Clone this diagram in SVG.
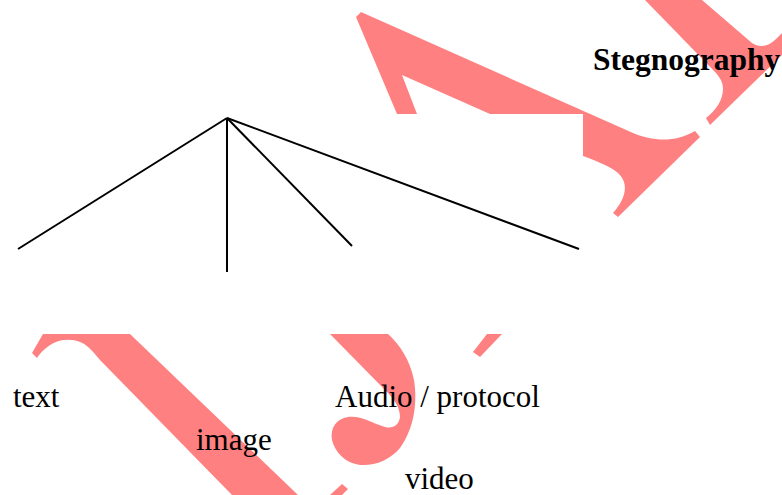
<svg xmlns="http://www.w3.org/2000/svg" width="782" height="495" viewBox="0 0 782 495">
  <style>
    .mark { fill: #ff8080; stroke: none; }
    .edge { stroke: #000; stroke-width: 2; fill: none; stroke-linecap: butt; }
    .label { font-family: "Liberation Serif", "Times New Roman", serif; font-size: 31px; fill: #000; }
    .title { font-family: "Liberation Serif", "Times New Roman", serif; font-size: 31.5px; font-weight: bold; fill: #000; }
  </style>
  <rect width="782" height="495" fill="#fff"/>

  <!-- background stamp fragments -->
  <g id="stamp">
    <path class="mark" d="M 356,17 L 361,12 L 633,133 C 652,141 675,143 695,131 L 700,137 L 618,217 L 613,213 C 622,203 627,192 624,182 C 621,172 610,166 583,156 L 583,114 L 490,114 L 402,75 L 417,114 L 397,114 Z"/>
    <path class="mark" d="M 645,0 L 702,0 L 752,43 C 759,48 768,47 776,39 L 782,33 L 782,55 L 710,125 L 706,118 C 716,110 723,100 723,89 C 723,82 720,78 716,73 Z"/>
    <path class="mark" d="M 32,353 L 43,334 L 130,334 L 298,495 L 232,495 L 100,360 C 92,350 86,344 80,342 C 73,339 63,339 56,342 C 47,346 41,352 37,358 Z"/>
    <path class="mark" d="M 330,334 L 388,334 C 400,345 410,360 414,380 C 418,405 413,430 400,448 C 390,460 375,466 360,465 C 345,463 335,452 332,440 C 330,428 336,419 348,417 C 360,415 372,423 385,427 C 393,429 399,425 400,417 C 400,408 395,400 387,392 Z"/>
    <path class="mark" d="M 473,352 L 480,357 L 502,334 L 487,334 Z"/>
    <path class="mark" d="M 330,495 L 342,484 L 348,489 L 342,495 Z"/>
  </g>

  <!-- tree branches from the root point -->
  <g id="connectors">
    <line class="edge" x1="227" y1="118" x2="18" y2="249"/>
    <line class="edge" x1="227" y1="118" x2="227" y2="272"/>
    <line class="edge" x1="227" y1="118" x2="352" y2="246"/>
    <line class="edge" x1="227" y1="118" x2="579" y2="249"/>
  </g>

  <g id="root">
    <text class="title" x="593" y="70">Stegnography</text>
  </g>
  <g id="node-text">
    <text class="label" x="13" y="407">text</text>
  </g>
  <g id="node-image">
    <text class="label" x="196" y="450">image</text>
  </g>
  <g id="node-audio">
    <text class="label" x="335" y="407">Audio / protocol</text>
  </g>
  <g id="node-video">
    <text class="label" x="405" y="489">video</text>
  </g>
</svg>
